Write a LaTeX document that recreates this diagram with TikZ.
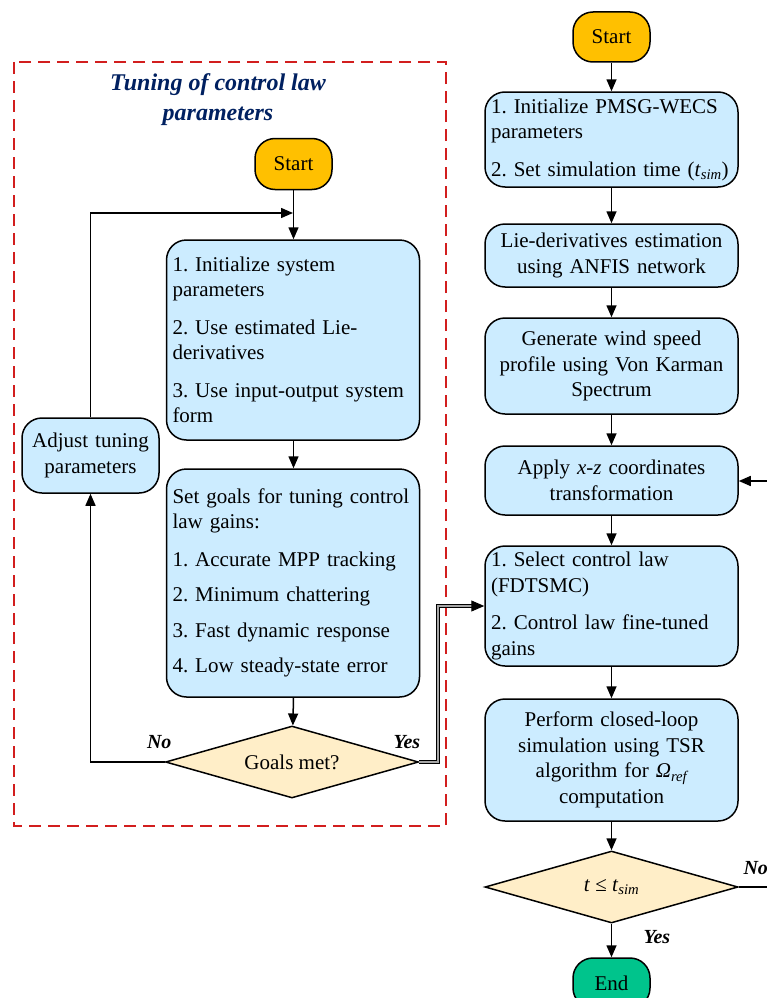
\documentclass[tikz,border=0pt]{standalone}
\usepackage{fontspec}
\setmainfont{Liberation Serif}
\usepackage{tikz}
\usetikzlibrary{arrows.meta,positioning,shapes.geometric}
\frenchspacing

\definecolor{boxblue}{RGB}{204,236,255}
\definecolor{startorange}{RGB}{255,192,0}
\definecolor{decyellow}{RGB}{255,238,200}
\definecolor{endgreen}{RGB}{0,196,140}
\definecolor{titleblue}{RGB}{0,32,96}
\definecolor{framered}{RGB}{210,30,30}

\tikzset{
  proc/.style={draw, line width=1.5, rounded corners=20, fill=boxblue,
    minimum width=253, inner xsep=6, inner ysep=4},
  procl/.style={proc, text width=241, align=left},
  procc/.style={proc, text width=241, align=center},
  term/.style={draw, line width=1.5, rounded corners=20, minimum width=77,
    minimum height=51, inner sep=2},
  dec/.style={draw, line width=1.5, diamond, aspect=3.5, fill=decyellow,
    minimum width=253, minimum height=72, inner sep=0},
  flow/.style={line width=1.5, -{Triangle[length=12,width=10]}},
  lbl/.style={font=\fontsize{20}{24}\selectfont\bfseries\itshape}
}

\begin{document}
\begin{tikzpicture}[x=1pt, y=-1pt, font=\fontsize{21}{25.5}\selectfont]
  \useasboundingbox (0,0) rectangle (767,998);

  % Tuning loop (left)
  \draw[framered, line width=1.5, dash pattern=on 12 off 7] (14,62) rectangle (446,826);
  \node[text=titleblue, align=center, font=\fontsize{24}{30}\selectfont\bfseries\itshape]
    (title) at (218,100) {Tuning of control law\\parameters};

  \node[term, fill=startorange] (startL) at (293.5,164) {Start};
  \node[procl, minimum height=200] (init) at (293,340)
    {1. Initialize system\\parameters\\[12pt]
     2. Use estimated Lie-\\derivatives\\[12pt]
     \mbox{3. Use input-output system}\\form};
  \node[procl, minimum height=228] (goalsbox) at (293,583)
    {\mbox{Set goals for tuning control}\\law gains:\\[12pt]
     1. Accurate MPP tracking\\[10pt]
     2. Minimum chattering\\[10pt]
     3. Fast dynamic response\\[10pt]
     4. Low steady-state error};
  \node[dec] (check) at (292,762) {Goals met?};
  \node[proc, minimum width=133, minimum height=75, text width=125, align=center]
    (adjust) at (90.5,455.5) {Adjust tuning\\parameters};

  \coordinate (join) at (293,213);
  \draw[flow] (startL) -- (startL |- init.north);
  \draw[flow] (init.south -| startL) -- (startL |- goalsbox.north);
  \draw[flow] (goalsbox.south -| startL) -- (check);
  \draw[flow] (check.west) -| (adjust.south);
  \draw[flow] (adjust.north) |- (join);
  \node[lbl, anchor=east] at (175,742) {No};
  \node[lbl, anchor=west] at (390,742) {Yes};

  % Simulation flow (right)
  \node[term, fill=startorange, minimum height=50] (startR) at (611.5,37) {Start};
  \node[procl, minimum height=95] (params) at (611.5,139.5)
    {\mbox{1. Initialize PMSG-WECS}\\parameters\\[12pt]
     \mbox{2. Set simulation time (\textit{t}\textsubscript{\itshape sim})}};
  \node[procc, minimum height=63] (anfis) at (611.5,255.5)
    {Lie-derivatives estimation\\using ANFIS network};
  \node[procc, minimum height=96] (wind) at (611.5,366)
    {Generate wind speed\\profile using Von Karman\\Spectrum};
  \node[procc, minimum height=69] (coord) at (611.5,480.5)
    {Apply \textit{x}-\textit{z} coordinates\\transformation};
  \node[procl, minimum height=120] (ctrl) at (611.5,606)
    {1. Select control law\\(FDTSMC)\\[12pt]
     \mbox{2. Control law fine-tuned}\\gains};
  \node[procc, minimum height=122] (sim) at (611.5,760)
    {Perform closed-loop\\simulation using TSR\\algorithm for \textit{Ω}\textsubscript{\itshape ref}\\computation};
  \node[dec] (tcheck) at (611.5,887)
    {\textit{t} ≤ \textit{t}\textsubscript{\itshape sim}};
  \node[term, fill=endgreen, minimum height=50] (fin) at (611.5,983) {End};

  \foreach \a/\b in {startR/params, params/anfis, anfis/wind, wind/coord,
                     coord/ctrl, ctrl/sim, sim/tcheck, tcheck/fin}
    \draw[flow] (\a.south -| startR) -- (startR |- \b.north);

  \coordinate (noEnd) at (767,887);
  \coordinate (backIn) at (767,481);
  \draw[line width=1.5] (tcheck.east) -- (noEnd);
  \draw[flow] (backIn) -- (coord.east |- backIn);
  \node[lbl, anchor=west] at (740,868) {No};
  \node[lbl, anchor=west] at (640,937) {Yes};

  % Yes branch into the control law box
  \draw[line width=1, double=gray!70, double distance=2, -{Triangle[length=13,width=11]}]
    (check.east) -- ++(19,0) |- (ctrl.west);
\end{tikzpicture}
\end{document}
